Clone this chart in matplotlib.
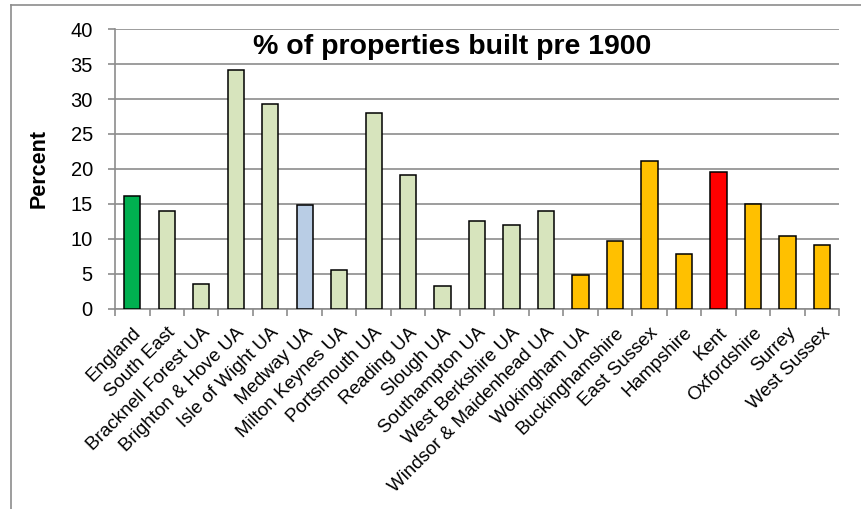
import numpy as np
import matplotlib.pyplot as plt
from matplotlib.lines import Line2D

plt.rcParams['font.family'] = ['Liberation Sans', 'DejaVu Sans']

areas = ['England', 'South East', 'Bracknell Forest UA', 'Brighton & Hove UA',
         'Isle of Wight UA', 'Medway UA', 'Milton Keynes UA', 'Portsmouth UA',
         'Reading UA', 'Slough UA', 'Southampton UA', 'West Berkshire UA',
         'Windsor & Maidenhead UA', 'Wokingham UA', 'Buckinghamshire',
         'East Sussex', 'Hampshire', 'Kent', 'Oxfordshire', 'Surrey', 'West Sussex']
pct = [16.1, 14.0, 3.6, 34.2, 29.3, 14.8, 5.6, 28.0, 19.1, 3.3, 12.5, 12.0,
       14.0, 4.8, 9.7, 21.1, 7.9, 19.6, 15.0, 10.4, 9.2]
colors = ['#00B050'] + ['#D7E4BD'] * 4 + ['#B9CDE5'] + ['#D7E4BD'] * 7 + \
         ['#FFC000'] * 4 + ['#FF0000'] + ['#FFC000'] * 3

fig = plt.figure(figsize=(8.61, 5.09), dpi=100)
ax = fig.add_axes([0.1336, 0.393, 0.841, 0.55])

x = np.arange(len(areas))
ax.bar(x, pct, width=0.47, color=colors, edgecolor='black', linewidth=1.1, zorder=3)

ax.set_xlim(-0.5, len(areas) - 0.5)
ax.set_ylim(0, 40)
ax.set_yticks(range(0, 41, 5))
ax.yaxis.grid(True, color='#8c8c8c', linewidth=1.2, zorder=0)
ax.tick_params(axis='y', labelsize=14.5, length=5, color='#8c8c8c', width=1.2, pad=11)

ax.set_xticks(x)
ax.set_xticklabels(areas, rotation=45, ha='right', va='top', rotation_mode='anchor', fontsize=13.5)
ax.tick_params(axis='x', length=0, pad=11)
ax.set_xticks(np.arange(-0.5, len(areas)), minor=True)
ax.tick_params(axis='x', which='minor', length=5, color='#8c8c8c', width=1.2)

for s in ['top', 'right']:
    ax.spines[s].set_visible(False)
for s in ['left', 'bottom']:
    ax.spines[s].set_color('#8c8c8c')
    ax.spines[s].set_linewidth(1.2)

ax.set_ylabel('Percent', fontsize=15.5, fontweight='bold', labelpad=15)
ax.text(0.465, 0.936, '% of properties built pre 1900', transform=ax.transAxes,
        ha='center', va='center', fontsize=20.5, fontweight='bold')

# outer chart border
fig.add_artist(Line2D([10.5 / 861, 10.5 / 861], [0, 1 - 4.5 / 509], color='#8c8c8c', lw=1.2))
fig.add_artist(Line2D([10.5 / 861, 1], [1 - 4.5 / 509, 1 - 4.5 / 509], color='#8c8c8c', lw=1.2))

plt.savefig('out.png', dpi=100)
